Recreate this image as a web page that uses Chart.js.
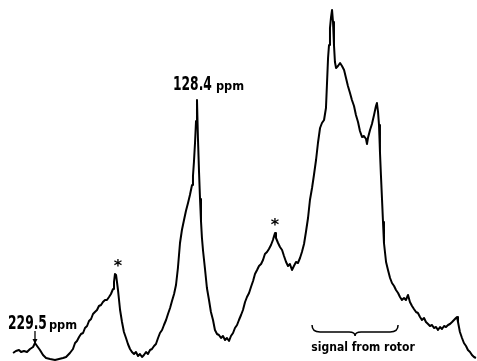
<!DOCTYPE html>
<html>
<head>
<meta charset="utf-8">
<script src="https://cdn.jsdelivr.net/npm/chart.js@4.4.1/dist/chart.umd.min.js"></script>
<style>
  html, body { margin: 0; padding: 0; background: #fff; }
  #wrap { width: 477px; height: 361px; position: relative; }
</style>
</head>
<body>
<div id="wrap"><canvas id="spec"></canvas></div>
<script>
// chemical shift (ppm) and intensity
const shiftPpm = [
  243.2, 241.4, 239.5, 238.2, 236.4, 234.5, 232.6, 230.7, 229.5, 228.2,
  226.4, 224.5, 222.6, 220.1, 217.0, 214.5, 212.0, 210.1, 207.7, 205.8,
  204.5, 203.3, 202.0, 200.8, 199.5, 198.3, 197.0, 195.8, 194.5, 193.3,
  192.1, 190.8, 189.6, 188.3, 187.1, 185.8, 184.6, 183.3, 182.1, 180.8,
  180.2, 179.6, 178.9, 177.7, 176.4, 175.2, 174.0, 172.7, 171.5, 170.2,
  169.0, 167.7, 166.5, 165.2, 164.0, 162.7, 161.5, 160.2, 159.0, 157.7,
  156.5, 155.2, 154.0, 152.7, 151.5, 150.2, 149.0, 147.7, 146.5, 145.2,
  144.0, 142.7, 141.5, 140.3, 139.0, 137.8, 136.5, 135.3, 134.0, 132.8,
  131.5, 130.9, 130.3, 129.6, 129.0, 128.4, 127.8, 127.1, 126.5, 125.9,
  125.3, 124.6, 123.4, 122.2, 120.9, 119.7, 118.4, 117.2, 115.9, 114.7,
  113.4, 112.2, 110.9, 109.7, 108.4, 107.2, 105.9, 104.7, 103.4, 102.2,
  100.9, 99.7, 98.4, 97.2, 95.9, 94.7, 93.4, 92.2, 90.9, 89.7,
  88.4, 87.2, 86.0, 84.7, 83.5, 82.2, 81.0, 80.3, 79.7, 79.1,
  77.8, 76.6, 75.3, 74.1, 72.8, 71.6, 70.4, 69.1, 67.9, 66.6,
  65.4, 64.1, 62.9, 61.6, 60.4, 59.1, 57.9, 56.6, 55.4, 54.1,
  52.9, 51.6, 50.4, 49.1, 47.9, 47.3, 46.6, 46.0, 45.4, 44.8,
  44.1, 43.5, 42.9, 42.3, 41.6, 40.4, 39.1, 37.9, 36.6, 35.4,
  34.2, 32.9, 31.7, 30.4, 29.2, 27.9, 26.7, 25.4, 24.2, 22.9,
  22.3, 21.7, 20.4, 19.2, 17.9, 16.7, 16.1, 15.4, 14.8, 14.2,
  13.6, 12.9, 12.3, 11.7, 10.4, 9.2, 7.9, 6.7, 5.4, 4.2,
  2.9, 1.7, 0.5, -0.8, -2.0, -3.3, -4.5, -5.8, -7.0, -8.3,
  -9.5, -10.8, -12.0, -13.3, -14.5, -15.8, -17.0, -18.3, -19.5, -20.8,
  -22.0, -23.3, -24.5, -25.8, -27.0, -28.3, -29.5, -30.8, -32.0, -33.2,
  -33.9, -34.5, -35.7, -37.0, -38.2, -39.5, -40.7, -42.0, -43.2, -44.5,
  -45.7
];
const intensity = [
  8, 10, 11, 9, 10, 9, 12, 14, 18, 15,
  11, 6, 3, 2, 1, 2, 3, 4, 8, 12,
  18, 20, 24, 27, 28, 33, 35, 40, 42, 47,
  49, 51, 55, 56, 59, 61, 61, 64, 67, 72,
  79, 87, 86, 71, 51, 39, 29, 23, 17, 12,
  9, 7, 9, 5, 7, 4, 6, 9, 7, 11,
  12, 15, 17, 23, 28, 31, 36, 41, 47, 53,
  60, 67, 76, 93, 118, 131, 141, 150, 158, 166,
  176, 185, 199, 219, 240, 261, 223, 188, 162, 140,
  123, 110, 92, 73, 61, 49, 41, 31, 27, 26,
  23, 25, 21, 23, 20, 25, 28, 33, 36, 41,
  46, 51, 59, 64, 68, 74, 80, 87, 91, 95,
  97, 101, 107, 109, 112, 116, 121, 125, 128, 123,
  118, 114, 111, 105, 99, 95, 97, 91, 95, 99,
  98, 103, 109, 117, 129, 143, 161, 173, 186, 201,
  218, 233, 238, 241, 253, 276, 303, 316, 333, 343,
  351, 339, 316, 299, 293, 295, 298, 295, 291, 283,
  275, 268, 261, 255, 246, 239, 230, 224, 225, 222,
  217, 223, 231, 237, 246, 255, 258, 249, 236, 209,
  186, 161, 139, 118, 99, 91, 83, 78, 75, 71,
  68, 64, 61, 63, 61, 66, 59, 55, 52, 49,
  48, 44, 41, 43, 39, 37, 35, 36, 33, 34,
  31, 34, 32, 35, 34, 36, 37, 39, 41, 43,
  44, 39, 29, 23, 18, 15, 11, 9, 6, 4,
  3
];

// annotated peaks
const peakLabelPpm = [229.5, 128.4];
const peakLabelText = ["229.5", "128.4"];
const sidebandPpm = [178.3, 80.3];
const sidebandHeight = [87, 128];
const rotorRange = [56.6, 2.9];
const rotorText = "signal from rotor";

const X_MAX = 251.34, X_MIN = -46.36;

function narrowText(ctx, txt, x, y, font, sx){
  ctx.save();
  ctx.font = font;
  ctx.translate(x, y);
  ctx.scale(sx, 1);
  ctx.fillText(txt, 0, 0);
  const w = ctx.measureText(txt).width * sx;
  ctx.restore();
  return w;
}

const notes = {
  id: "notes",
  afterDraw(chart){
    const ctx = chart.ctx, xs = chart.scales.x, ys = chart.scales.y;
    ctx.save();
    ctx.fillStyle = "#000";
    ctx.strokeStyle = "#000";
    ctx.textBaseline = "alphabetic";
    ctx.textAlign = "left";
    const big = "bold 19px 'DejaVu Sans Condensed', 'DejaVu Sans', sans-serif";
    const small = "bold 12px 'DejaVu Sans', sans-serif";

    // 229.5 ppm with arrow
    let px = xs.getPixelForValue(peakLabelPpm[0]);
    let w = narrowText(ctx, peakLabelText[0], 8, 329, big, 0.72);
    narrowText(ctx, "ppm", 8 + w + 2, 329, small, 0.95);
    ctx.lineWidth = 1.3;
    ctx.beginPath();
    ctx.moveTo(px, 331); ctx.lineTo(px, 343);
    ctx.stroke();
    ctx.beginPath();
    ctx.moveTo(px - 2.5, 339); ctx.lineTo(px, 344); ctx.lineTo(px + 2.5, 339);
    ctx.closePath(); ctx.fill();

    // 128.4 ppm
    px = xs.getPixelForValue(peakLabelPpm[1]);
    w = narrowText(ctx, peakLabelText[1], px - 24, 90, big, 0.72);
    narrowText(ctx, "ppm", px - 24 + w + 4, 90, small, 0.95);

    // spinning sidebands
    ctx.textAlign = "center";
    sidebandPpm.forEach((p, i) => {
      const x = xs.getPixelForValue(p);
      const y = ys.getPixelForValue(sidebandHeight[i]) - 5;
      ctx.font = "bold 16px 'DejaVu Sans', sans-serif";
      ctx.fillText("*", x + 1, y + 2);
    });

    // brace under rotor signal
    const x1 = xs.getPixelForValue(rotorRange[0]);
    const x2 = xs.getPixelForValue(rotorRange[1]);
    const xm = (x1 + x2) / 2, yb = 332;
    ctx.lineWidth = 1.5;
    ctx.beginPath();
    ctx.moveTo(x1, yb - 7);
    ctx.quadraticCurveTo(x1, yb, x1 + 8, yb);
    ctx.lineTo(xm - 6, yb);
    ctx.quadraticCurveTo(xm, yb, xm, yb + 4);
    ctx.quadraticCurveTo(xm, yb, xm + 6, yb);
    ctx.lineTo(x2 - 8, yb);
    ctx.quadraticCurveTo(x2, yb, x2, yb - 7);
    ctx.stroke();
    ctx.textAlign = "left";
    ctx.font = "bold 12px 'DejaVu Sans', sans-serif";
    const tw = ctx.measureText(rotorText).width * 0.9;
    narrowText(ctx, rotorText, xm + 8 - tw / 2, 351, "bold 12px 'DejaVu Sans', sans-serif", 0.9);
    ctx.restore();
  }
};

new Chart(document.getElementById("spec"), {
  type: "line",
  data: {
    datasets: [{
      data: shiftPpm.map((p, i) => ({ x: p, y: intensity[i] })),
      borderColor: "#000",
      borderWidth: 2,
      borderJoinStyle: "round",
      pointRadius: 0,
      tension: 0,
      fill: false
    }]
  },
  options: {
    responsive: true,
    maintainAspectRatio: false,
    animation: false,
    layout: { padding: 0 },
    plugins: { legend: { display: false }, tooltip: { enabled: false } },
    scales: {
      x: { type: "linear", reverse: true, min: X_MIN, max: X_MAX, display: false },
      y: { min: 0, max: 361, display: false }
    }
  },
  plugins: [notes]
});
</script>
</body>
</html>
